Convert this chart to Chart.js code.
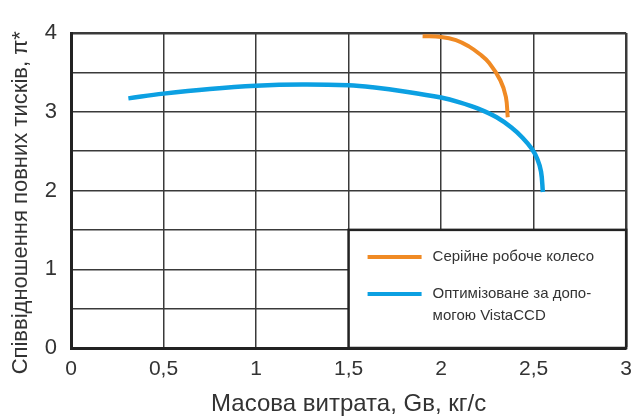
<!DOCTYPE html>
<html>
<head>
<meta charset="utf-8">
<script src="https://cdn.jsdelivr.net/npm/chart.js@4.4.0/dist/chart.umd.min.js"></script>
<style>
  html, body { margin: 0; padding: 0; background: #fff; }
  #wrap { width: 641px; height: 419px; }
</style>
</head>
<body>
<div id="wrap"><canvas id="pressureChart"></canvas></div>
<script>
// Data
const serialLabel = "Серійне робоче колесо";
const serialX = [1.90, 2.00, 2.08, 2.15, 2.21, 2.26, 2.32, 2.35, 2.36];
const serialY = [3.96, 3.95, 3.91, 3.83, 3.73, 3.62, 3.40, 3.19, 2.93];

const optimizedLabel = ["Оптимізоване за допо-", "могою VistaCCD"];
const optimizedX = [0.31, 0.50, 0.75, 1.00, 1.25, 1.50, 1.63, 1.81, 2.00, 2.10, 2.20, 2.30, 2.38, 2.44, 2.49, 2.52, 2.54, 2.55];
const optimizedY = [3.17, 3.23, 3.29, 3.33, 3.345, 3.335, 3.31, 3.255, 3.18, 3.12, 3.04, 2.93, 2.80, 2.67, 2.53, 2.40, 2.24, 1.98];

const xTicks = [0, 0.5, 1, 1.5, 2, 2.5, 3];
const yTicks = [0, 1, 2, 3, 4];

const orange = "#f08a24";
const blue = "#0ca0e2";
const textColor = "#333";
const font = "'Liberation Sans', Arial, sans-serif";

const toPoints = (xs, ys) => xs.map((x, i) => ({ x: x, y: ys[i] }));

// legend drawn as a white box inside the plot (x 1.5..3, y 0..1.5)
const boxLegend = {
  id: "boxLegend",
  afterDraw(chart) {
    const { ctx, scales: { x, y } } = chart;
    const left = x.getPixelForValue(1.5);
    const right = x.getPixelForValue(3);
    const top = y.getPixelForValue(1.5);
    const bottom = y.getPixelForValue(0);
    ctx.save();
    ctx.fillStyle = "#fff";
    ctx.fillRect(left, top, right - left, bottom - top);
    ctx.strokeStyle = "#222";
    ctx.lineWidth = 2.5;
    ctx.strokeRect(left, top, right - left, bottom - top);

    ctx.font = "15px " + font;
    ctx.fillStyle = textColor;
    ctx.textBaseline = "middle";
    const rows = [
      { color: orange, lines: [serialLabel], y: top + 27 },
      { color: blue, lines: optimizedLabel, y: top + 64 },
    ];
    rows.forEach(r => {
      ctx.strokeStyle = r.color;
      ctx.lineWidth = 4;
      ctx.beginPath();
      ctx.moveTo(left + 19, r.y);
      ctx.lineTo(left + 73, r.y);
      ctx.stroke();
      r.lines.forEach((t, i) => ctx.fillText(t, left + 84, r.y + i * 22));
    });
    ctx.restore();
  }
};

new Chart(document.getElementById("pressureChart"), {
  type: "line",
  data: {
    datasets: [
      {
        label: serialLabel,
        data: toPoints(serialX, serialY),
        borderColor: orange,
        borderWidth: 4,
        pointRadius: 0,
        tension: 0.4,
        borderCapStyle: "butt",
      },
      {
        label: optimizedLabel.join(""),
        data: toPoints(optimizedX, optimizedY),
        borderColor: blue,
        borderWidth: 4.5,
        pointRadius: 0,
        tension: 0.4,
        borderCapStyle: "butt",
      },
    ],
  },
  options: {
    responsive: true,
    maintainAspectRatio: false,
    animation: false,
    layout: { padding: { top: 33, right: 14, left: 0, bottom: 0 } },
    plugins: {
      legend: { display: false },
      tooltip: { enabled: false },
    },
    scales: {
      x: {
        type: "linear",
        min: 0,
        max: 3,
        afterFit: s => { s.height = 71; },
        afterBuildTicks: s => { s.ticks = xTicks.map(v => ({ value: v })); },
        ticks: {
          padding: 9,
          color: textColor,
          font: { family: font, size: 21 },
          callback: v => String(v).replace(".", ","),
        },
        grid: {
          color: "#3a3a3a",
          lineWidth: c => (c.tick && c.tick.value === 3 ? 2.5 : 1.5),
          drawTicks: false,
        },
        border: { display: true, color: "#222", width: 3 },
        title: {
          display: true,
          text: "Масова витрата, Gв, кг/с",
          color: textColor,
          font: { family: font, size: 24 },
          padding: { top: 0, bottom: 0 },
        },
      },
      y: {
        type: "linear",
        min: 0,
        max: 4,
        afterFit: s => { s.width = 71; },
        ticks: {
          stepSize: 0.5,
          padding: 14,
          color: textColor,
          font: { family: font, size: 22 },
          callback: v => (yTicks.includes(v) ? v : ""),
        },
        grid: {
          color: "#3a3a3a",
          lineWidth: c => (c.tick && c.tick.value === 4 ? 2.5 : 1.5),
          drawTicks: false,
        },
        border: { display: true, color: "#222", width: 3 },
        title: {
          display: true,
          text: "Співвідношення повних тисків, π*\u00a0\u00a0\u00a0\u00a0",
          color: textColor,
          font: { family: font, size: 22 },
          padding: { top: 8, bottom: 0 },
        },
      },
    },
  },
  plugins: [boxLegend],
});
</script>
</body>
</html>
